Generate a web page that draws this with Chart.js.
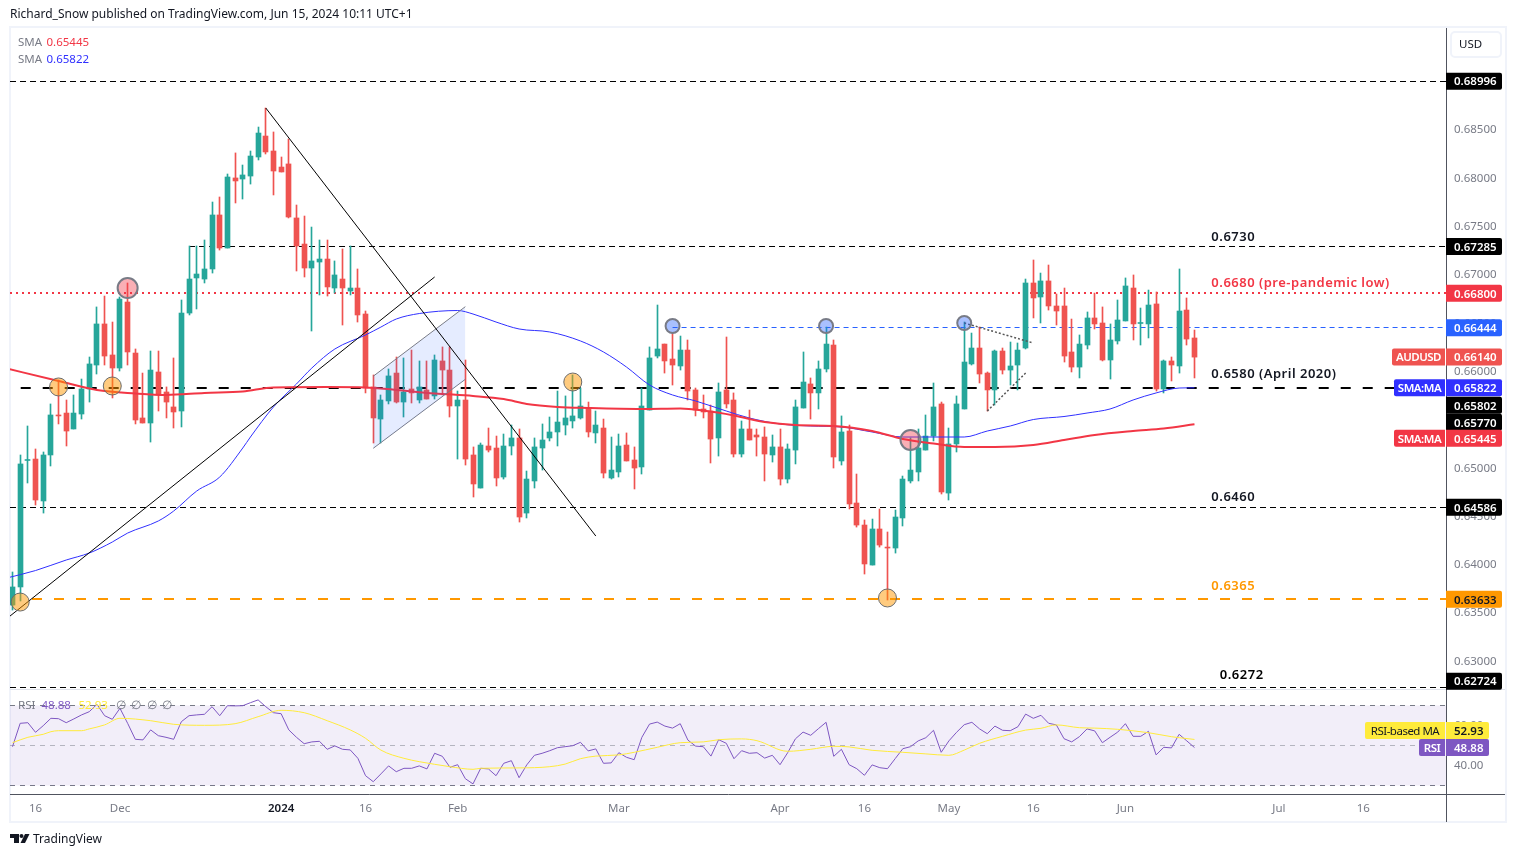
<!DOCTYPE html>
<html>
<head>
<meta charset="utf-8">
<title>AUDUSD</title>
<script src="https://cdn.jsdelivr.net/npm/chart.js@4/dist/chart.umd.min.js"></script>
<style>
html, body { margin: 0; background: #fff; }
canvas { display: block; }
</style>
</head>
<body>
<canvas id="audusd" width="1516" height="857"></canvas>
<script>
// daily candles, 13 Nov 2023 to 14 Jun 2024
const opens = [
0.63574,0.63761,0.65070,0.65085,0.64651,0.65127,0.65541,0.65561,0.65396,0.65551,
0.65810,0.66058,0.66483,0.66162,0.66027,0.66710,0.66182,0.65510,0.65458,0.65986,
0.65779,0.65624,0.65582,0.66596,0.66959,0.66948,0.67052,0.67611,0.67269,0.67994,
0.67983,0.68014,0.68211,0.68428,0.68273,0.68107,0.68139,0.67580,0.67310,0.67062,
0.67124,0.67155,0.66855,0.66948,0.66824,0.66855,0.66586,0.65831,0.65499,0.65686,
0.65975,0.65675,0.65810,0.65696,0.65800,0.65738,0.66100,0.66006,0.65634,0.65696,
0.65127,0.64785,0.65220,0.65199,0.64899,0.65220,0.65303,0.64526,0.64858,0.65199,
0.65303,0.65365,0.65437,0.65479,0.65510,0.65613,0.65355,0.65406,0.64889,0.64951,
0.65230,0.65075,0.65003,0.65592,0.66151,0.66275,0.66120,0.66048,0.66213,0.65800,
0.65603,0.65582,0.65303,0.65800,0.65696,0.65137,0.65396,0.65334,0.65313,0.65127,
0.65210,0.64878,0.65178,0.65613,0.65862,0.65769,0.66017,0.66265,0.65065,0.65375,
0.64630,0.64402,0.63988,0.64361,0.64174,0.64164,0.64475,0.64858,0.64951,0.65178,
0.65323,0.65655,0.64733,0.65241,0.65603,0.66069,0.66234,0.65975,0.65800,0.66203,
0.66006,0.66058,0.66234,0.66907,0.66762,0.66928,0.66669,0.66669,0.66193,0.66037,
0.66265,0.66545,0.66493,0.66110,0.66307,0.66514,0.66855,0.66488,0.66483,0.66690,
0.65810,0.66100,0.66048,0.66627,0.66338];
const closes = [
0.63761,0.65034,0.65080,0.64661,0.65127,0.65541,0.65531,0.65375,0.65561,0.65810,
0.66069,0.66483,0.66151,0.66027,0.66741,0.66193,0.65489,0.65458,0.66006,0.65748,
0.65675,0.65572,0.66596,0.66948,0.67000,0.67052,0.67611,0.67269,0.68004,0.67963,
0.68025,0.68221,0.68459,0.68263,0.68066,0.68056,0.67590,0.67290,0.67062,0.67135,
0.67155,0.66866,0.66990,0.66855,0.66855,0.66576,0.65820,0.65510,0.65696,0.65945,
0.65675,0.65779,0.65769,0.65831,0.65706,0.66110,0.66006,0.65634,0.65696,0.65085,
0.64827,0.65230,0.65178,0.64889,0.65220,0.65303,0.64485,0.64878,0.65210,0.65282,
0.65365,0.65468,0.65510,0.65531,0.65634,0.65365,0.65437,0.64940,0.64971,0.65220,
0.65065,0.64992,0.65634,0.66131,0.66224,0.66100,0.66058,0.66213,0.65789,0.65592,
0.65572,0.65292,0.65779,0.65655,0.65137,0.65396,0.65282,0.65313,0.65137,0.65210,
0.64878,0.65189,0.65624,0.65882,0.65769,0.66017,0.66275,0.65106,0.65365,0.64620,
0.64402,0.63999,0.64361,0.64195,0.64164,0.64485,0.64878,0.64971,0.65199,0.65323,
0.65624,0.64744,0.65241,0.65655,0.66089,0.66234,0.65965,0.65800,0.66203,0.66006,
0.66048,0.66213,0.66907,0.66752,0.66928,0.66669,0.66617,0.66151,0.66037,0.66275,
0.66545,0.66483,0.66110,0.66317,0.66524,0.66876,0.66483,0.66498,0.66679,0.65810,
0.66100,0.66058,0.66617,0.66327,0.66140];
const highs = [
0.63916,0.65127,0.65427,0.65189,0.65158,0.65655,0.65903,0.65696,0.65748,0.65913,
0.66141,0.66659,0.66772,0.66503,0.66762,0.66907,0.66224,0.65975,0.66203,0.66203,
0.65831,0.66131,0.66731,0.67290,0.67290,0.67352,0.67745,0.67797,0.68035,0.68253,
0.68128,0.68273,0.68521,0.68718,0.68470,0.68211,0.68397,0.67714,0.67600,0.67486,
0.67352,0.67352,0.67135,0.67259,0.67290,0.67052,0.66617,0.65955,0.65748,0.66017,
0.66141,0.66131,0.66213,0.66100,0.66100,0.66162,0.66245,0.66245,0.65789,0.66110,
0.65210,0.65251,0.65406,0.65323,0.65344,0.65437,0.65396,0.64961,0.65303,0.65448,
0.65520,0.65789,0.65738,0.65955,0.65820,0.65675,0.65582,0.65499,0.65313,0.65344,
0.65355,0.65210,0.65820,0.66245,0.66679,0.66275,0.66389,0.66358,0.66317,0.65820,
0.65748,0.65644,0.65872,0.66348,0.65769,0.65479,0.65592,0.65396,0.65417,0.65334,
0.65396,0.65241,0.65696,0.66193,0.65924,0.66100,0.66451,0.66317,0.65531,0.65437,
0.64930,0.64454,0.64464,0.64568,0.64330,0.64557,0.64909,0.65303,0.65396,0.65541,
0.65872,0.65675,0.65406,0.65738,0.66503,0.66389,0.66451,0.65986,0.66213,0.66234,
0.66296,0.66286,0.66948,0.67145,0.67010,0.67093,0.66793,0.66855,0.66534,0.66369,
0.66607,0.66803,0.66659,0.66483,0.66731,0.66959,0.66990,0.66648,0.66834,0.66814,
0.66110,0.66141,0.67052,0.66752,0.66420];
const lows = [
0.63522,0.63616,0.64837,0.64609,0.64526,0.65013,0.65448,0.65220,0.65396,0.65499,
0.65675,0.65965,0.66058,0.65717,0.65996,0.66058,0.65448,0.65458,0.65261,0.65582,
0.65510,0.65406,0.65417,0.66576,0.66638,0.66907,0.67010,0.67248,0.67269,0.67735,
0.67776,0.67931,0.68180,0.68242,0.67818,0.68056,0.67580,0.67031,0.66969,0.66410,
0.66783,0.66772,0.66803,0.66472,0.66783,0.66503,0.65769,0.65251,0.65251,0.65655,
0.65665,0.65520,0.65665,0.65665,0.65706,0.65706,0.65748,0.65520,0.65085,0.65023,
0.64692,0.64785,0.65158,0.64806,0.64878,0.65127,0.64433,0.64475,0.64785,0.64971,
0.65272,0.65220,0.65334,0.65406,0.65499,0.65313,0.65251,0.64889,0.64878,0.64899,
0.65065,0.64775,0.64930,0.65592,0.66131,0.65975,0.65851,0.66006,0.65696,0.65531,
0.65510,0.65044,0.65116,0.65613,0.65106,0.65106,0.65282,0.65116,0.64858,0.65054,
0.64816,0.64837,0.65034,0.65613,0.65499,0.65603,0.65986,0.64992,0.65023,0.64568,
0.64381,0.63895,0.63988,0.64174,0.63626,0.64112,0.64392,0.64837,0.64858,0.65178,
0.65272,0.64723,0.64661,0.65158,0.65603,0.66058,0.65872,0.65582,0.65644,0.65965,
0.65851,0.65800,0.66224,0.66545,0.66493,0.66627,0.66472,0.66089,0.65986,0.65924,
0.66224,0.66431,0.66100,0.65913,0.66275,0.66514,0.66317,0.66265,0.66338,0.65789,
0.65769,0.65893,0.65975,0.66265,0.65924];

const rsiValues = [
49.3,61,61.3,56.5,59.8,63.5,63.3,61.3,63.2,65.2,
66.8,70.5,64.8,63,68.5,61,53,52.7,57.7,54.8,
54,53,61.8,64.8,65.2,65.5,69.3,64.8,69.8,69.7,
69.8,71.3,72.7,69.3,66.3,65.8,57.7,54,50.8,51.7,
52,48,49.7,48,47.7,43.5,34.8,31.8,35.7,39.7,
36.8,38.5,38.5,39.7,38.2,46,44.5,39,40.3,33.3,
30.7,38.5,38.2,34.8,41,42.3,33.8,40.2,45,46,
47.3,48.8,49.3,49.8,51.5,47.2,48.2,41,41.2,46.3,
44,42.8,54,60.6,61.6,59.6,58.6,60.8,52.6,49.6,
49.3,44.6,52.8,51,43.3,47.3,46,46.3,43.6,45,
40.3,46.3,53.2,56.6,55,58.3,61.5,44.5,48,40.3,
38.3,35,40.2,38.8,38.3,43.3,48.3,49.3,52.2,53.8,
57.5,46.5,52.2,56.5,60.3,61.5,58.2,55.8,59.6,57.5,
57.3,59.3,65.6,63.5,65,61,60.2,53.3,51.7,54.3,
58.2,57.2,51.3,54,56.6,60.8,54.5,54.5,57,45.2,
49,48.7,55.5,52.2,48.88];

// moving averages read at every few candles
const sma50Idx = [-1,3,7,10,13,15,19,21,24,27,30,31,34,37,39,42,46,48,50,53,58,60,63,66,70,74,77,80,83,86,89,93,96,100,104,108,112,116,120,124,127,130,133,137,140,143,146,149,152,154];
const sma50Values = [0.63849,0.63931,0.64040,0.64112,0.64226,0.64319,0.64444,0.64547,0.64754,0.64899,0.65199,0.65313,0.65624,0.65862,0.66027,0.66224,0.66369,0.66451,0.66534,0.66591,0.66622,0.66586,0.66503,0.66431,0.66400,0.66307,0.66193,0.66037,0.65851,0.65748,0.65686,0.65582,0.65510,0.65448,0.65427,0.65417,0.65365,0.65313,0.65313,0.65313,0.65375,0.65427,0.65494,0.65525,0.65561,0.65603,0.65696,0.65769,0.65820,0.65822];
const sma200Idx = [-1,6,11,16,20,25,30,34,41,46,50,55,60,64,67,71,75,82,87,90,94,98,102,107,112,116,120,124,128,133,137,141,146,150,154];
const sma200Values = [0.66027,0.65893,0.65800,0.65764,0.65748,0.65769,0.65784,0.65826,0.65831,0.65826,0.65800,0.65764,0.65738,0.65706,0.65655,0.65624,0.65613,0.65603,0.65608,0.65587,0.65536,0.65468,0.65437,0.65427,0.65375,0.65292,0.65246,0.65210,0.65210,0.65230,0.65282,0.65334,0.65375,0.65401,0.65445];
const rsiMaIdx = [0,2,4,5,6,9,10,12,14,18,21,25,29,32,35,38,41,44,46,48,51,55,57,60,61,66,70,72,74,76,79,81,84,87,90,92,95,97,101,104,107,109,112,116,119,122,124,126,129,132,134,136,139,141,144,148,151,152,154];
const rsiMaValues = [51.3,54,55.5,56.8,57.3,57.3,58.2,60.2,63.5,62.3,60.5,60,60.8,64.3,67.5,66.3,62.3,57.7,53.5,47.6,43.5,40.5,39.3,38,38.5,38.7,39.3,40.6,43.3,44.6,45.2,46.5,49,51.3,51.7,52.8,53.2,52.3,47,48,49.5,49.2,47.5,46.5,45.7,45,47.6,51,54.5,57.6,58.5,60.2,58.8,58.6,58,56.3,54.3,53.8,52.93];

const priceTicks = [0.685,0.68,0.675,0.67,0.665,0.66,0.655,0.65,0.645,0.64,0.635,0.63];
const rsiTicks = [40,60];
const dateIdx = [3,14,35,46,58,79,100,111,122,133,145,165,176];
const dateNames = ['16','Dec','2024','16','Feb','Mar','Apr','16','May','16','Jun','Jul','16'];

const xMin = -0.326, xMax = 186.77;

const levelValues = [0.68996,0.67285,0.66800,0.66444,0.65820,0.64586,0.63633,0.62724];
const levelStart = [xMin,23,xMin,86,1.07,xMin,2.54,xMin];

const noteTexts = ['0.6730','0.6680 (pre-pandemic low)','0.6580 (April 2020)','0.6460','0.6365','0.6272'];
const noteIdx = [156.2,156.2,156.2,156.2,156.2,157.3];
const notePrices = [0.67393,0.66917,0.65975,0.64702,0.63781,0.62860];

const orangeIdx = [1,6,13,73,114];
const orangePrices = [0.63605,0.65831,0.65841,0.65882,0.63647];
const pinkIdx = [15,117];
const pinkPrices = [0.66855,0.65282];
const blueIdx = [86,106,124];
const bluePrices = [0.66462,0.66462,0.66493];

const badgeValues = [0.68996,0.67285,0.66800,0.66444,0.66140,0.65822,0.65802,0.65770,0.65445,0.64586,0.63633,0.62724];
const rsiBadgeValues = [52.93,48.88];

const UP = '#26a69a', DOWN = '#ef5350', RED = '#f23645', BLUE = '#3030ff', ROYAL = '#2962ff';
const BLACK = '#000000', ORANGE = '#ff9800', PURPLE = '#7e57c2', YELLOW = '#ffeb3b';
const GREY = '#787b86', INK = '#131722', AXIS = '#50535e', PANE = '#f0f3fa';
const FONT = '"Noto Sans", sans-serif';

Chart.defaults.font.family = FONT;

const levelStyles = [
    { color: BLACK, width: 1, dash: [6, 4] },
    { color: BLACK, width: 1, dash: [6, 4] },
    { color: RED, width: 2, dash: [2, 4] },
    { color: ROYAL, width: 1, dash: [5, 4] },
    { color: BLACK, width: 2, dash: [10, 12] },
    { color: BLACK, width: 1, dash: [6, 4] },
    { color: ORANGE, width: 2, dash: [10, 12] },
    { color: BLACK, width: 1, dash: [6, 4] }
];
const noteColors = [INK, RED, INK, INK, ORANGE, BLACK];
const badgeStyles = [
    { bg: BLACK, fg: '#fff', nudge: 0 },
    { bg: BLACK, fg: '#fff', nudge: 0 },
    { bg: RED, fg: '#fff', nudge: 0 },
    { bg: ROYAL, fg: '#fff', nudge: 0 },
    { bg: DOWN, fg: '#fff', nudge: 0, tag: 'AUDUSD', tagLeft: 1392 },
    { bg: BLUE, fg: '#fff', nudge: 0, tag: 'SMA:MA', tagLeft: 1394 },
    { bg: BLACK, fg: '#fff', nudge: 15.5 },
    { bg: BLACK, fg: '#fff', nudge: 29.5 },
    { bg: RED, fg: '#fff', nudge: 14, tag: 'SMA:MA', tagLeft: 1394 },
    { bg: BLACK, fg: '#fff', nudge: 0 },
    { bg: ORANGE, fg: INK, nudge: 0 },
    { bg: BLACK, fg: '#fff', nudge: -6 }
];
const rsiBadgeStyles = [
    { bg: YELLOW, fg: INK, nudge: -9, tag: 'RSI-based MA', tagLeft: 1365 },
    { bg: PURPLE, fg: '#fff', nudge: 0, tag: 'RSI', tagLeft: 1419 }
];

function zip(xs, ys) {
    return xs.map((x, i) => ({ x: x, y: ys[i] }));
}

function lineSet(label, points, opts) {
    return Object.assign({
        type: 'line', label: label, data: points, yAxisID: 'y',
        borderWidth: 1, pointRadius: 0, tension: 0, fill: false, order: 3
    }, opts);
}

function markers(label, xs, ys, fill, edge, edgeWidth, radius) {
    return lineSet(label, zip(xs, ys), {
        showLine: false, pointRadius: radius, pointBackgroundColor: fill,
        pointBorderColor: edge, pointBorderWidth: edgeWidth, order: 1
    });
}

const candleColors = opens.map((o, i) => closes[i] >= o ? UP : DOWN);
const idx = opens.map((o, i) => i);

const datasets = [
    { type: 'bar', label: 'AUDUSD', data: idx.map(i => ({ x: i, y: [opens[i], closes[i]] })), yAxisID: 'y',
      backgroundColor: candleColors, barThickness: 5, grouped: false, order: 5, snap: true },
    { type: 'bar', label: 'AUDUSD range', data: idx.map(i => ({ x: i, y: [lows[i], highs[i]] })), yAxisID: 'y',
      backgroundColor: candleColors, barThickness: 1, grouped: false, order: 6, snap: true },
    lineSet('SMA 50', zip(sma50Idx, sma50Values), { borderColor: BLUE, cubicInterpolationMode: 'monotone', order: 4 }),
    lineSet('SMA 200', zip(sma200Idx, sma200Values), { borderColor: RED, borderWidth: 2, cubicInterpolationMode: 'monotone', order: 3 }),
    lineSet('Trend down', zip([33, 76], [0.68718, 0.64288]), { borderColor: BLACK, order: 2 }),
    lineSet('Trend up', zip([xMin, 55], [0.63460, 0.66969]), { borderColor: BLACK, order: 2 }),
    lineSet('Channel top', zip([47, 59], [0.65942, 0.66662]), { borderColor: GREY, backgroundColor: 'rgba(41,98,255,0.12)', fill: '+1', order: 2 }),
    lineSet('Channel bottom', zip([47, 59], [0.65196, 0.65910]), { borderColor: GREY, order: 2 }),
    lineSet('Wedge top', zip([124, 133], [0.66493, 0.66286]), { borderColor: '#555', borderWidth: 1.5, borderDash: [2, 2], order: 2 }),
    lineSet('Wedge bottom', zip([127, 132], [0.65582, 0.65975]), { borderColor: '#555', borderWidth: 1.5, borderDash: [2, 2], order: 2 }),
    markers('Support', orangeIdx, orangePrices, 'rgba(255,152,0,0.5)', '#6b6b6b', 1, 9),
    markers('Resistance', pinkIdx, pinkPrices, 'rgba(242,54,69,0.4)', GREY, 2, 10),
    markers('Swing high', blueIdx, bluePrices, 'rgba(41,98,255,0.4)', GREY, 2, 7),
    lineSet('RSI 70', zip([xMin, xMax], [70, 70]), { yAxisID: 'rsi', borderColor: GREY, borderDash: [5, 5], backgroundColor: 'rgba(126,87,194,0.1)', fill: '+1', order: 9, snapY: 1 }),
    lineSet('RSI 30', zip([xMin, xMax], [30, 30]), { yAxisID: 'rsi', borderColor: GREY, borderDash: [5, 5], order: 9, snapY: 1 }),
    lineSet('RSI 50', zip([xMin, xMax], [50, 50]), { yAxisID: 'rsi', borderColor: 'rgba(120,123,134,0.5)', borderDash: [5, 5], order: 8, snapY: 1 }),
    lineSet('RSI', idx.map(i => ({ x: i, y: rsiValues[i] })), { yAxisID: 'rsi', borderColor: PURPLE, order: 3 }),
    lineSet('RSI MA', zip(rsiMaIdx, rsiMaValues), { yAxisID: 'rsi', borderColor: YELLOW, cubicInterpolationMode: 'monotone', order: 2 })
];
levelValues.forEach((v, i) => {
    datasets.push(lineSet('Level ' + v, zip([levelStart[i], xMax], [v, v]), {
        borderColor: levelStyles[i].color, borderWidth: levelStyles[i].width,
        borderDash: levelStyles[i].dash, order: 7, snapY: levelStyles[i].width
    }));
});

function label(ctx, text, x, y, font, color, align, spacing) {
    ctx.font = font;
    ctx.fillStyle = color;
    ctx.textAlign = align || 'left';
    ctx.textBaseline = 'middle';
    ctx.letterSpacing = spacing || '0px';
    ctx.fillText(text, x, y + 1);
    ctx.letterSpacing = '0px';
}

function badge(ctx, text, y, right, style) {
    const h = 17;
    ctx.fillStyle = style.bg;
    ctx.beginPath();
    ctx.roundRect(1446, y - h / 2, right - 1446, h, [0, 2, 2, 0]);
    ctx.fill();
    label(ctx, text, 1454, y, '600 11.5px ' + FONT, style.fg);
    if (style.tag) {
        ctx.fillStyle = style.bg;
        ctx.beginPath();
        ctx.roundRect(style.tagLeft, y - h / 2, 1445 - style.tagLeft, h, [2, 0, 0, 2]);
        ctx.fill();
        label(ctx, style.tag, (style.tagLeft + 1445) / 2, y, (style.tag === 'RSI-based MA' ? '' : '600 ') + '11.5px ' + FONT, style.fg, 'center', '-0.5px');
    }
}

// keep thin marks on whole pixels, as the original does
const candleSnap = {
    id: 'candleSnap',
    afterDatasetsUpdate(chart) {
        chart.data.datasets.forEach((d, i) => {
            const els = chart.getDatasetMeta(i).data;
            if (d.snap) els.forEach(el => { el.x = Math.floor(el.x) + 0.5; });
            if (d.snapY === 1) els.forEach(el => { el.y = Math.floor(el.y) + 0.5; });
            if (d.snapY === 2) els.forEach(el => { el.y = Math.round(el.y); });
        });
    }
};

const furniture = {
    id: 'furniture',
    beforeDraw(chart) {
        const ctx = chart.ctx;
        ctx.save();
        ctx.strokeStyle = PANE;
        ctx.lineWidth = 2;
        ctx.strokeRect(10, 27, 1496, 795);
        ctx.strokeStyle = '#e0e3eb';
        ctx.lineWidth = 1;
        ctx.beginPath();
        ctx.moveTo(10, 689.5);
        ctx.lineTo(1505, 689.5);
        ctx.stroke();
        ctx.restore();
    },
    afterDraw(chart) {
        const ctx = chart.ctx, y = chart.scales.y, rsi = chart.scales.rsi;
        const small = '11.5px ' + FONT;
        ctx.save();

        ctx.strokeStyle = AXIS;
        ctx.lineWidth = 1;
        ctx.beginPath();
        ctx.moveTo(1446.5, 794);
        ctx.lineTo(1446.5, 822);
        ctx.moveTo(1446, 794.5);
        ctx.lineTo(1505, 794.5);
        ctx.stroke();

        label(ctx, 'Richard_Snow published on TradingView.com, Jun 15, 2024 10:11 UTC+1', 10, 14, '12px ' + FONT, INK);
        label(ctx, 'SMA', 18, 41.5, small, GREY);
        label(ctx, badgeValues[8].toFixed(5), 46.5, 41.5, small, RED);
        label(ctx, 'SMA', 18, 58.5, small, GREY);
        label(ctx, badgeValues[5].toFixed(5), 46.5, 58.5, small, BLUE);

        label(ctx, 'RSI', 18, 704.5, small, GREY);
        label(ctx, rsiBadgeValues[1].toFixed(2), 41.5, 704.5, small, PURPLE);
        label(ctx, rsiBadgeValues[0].toFixed(2), 78.5, 704.5, small, YELLOW);
        [116, 131, 147, 162].forEach(x => label(ctx, '\u2205', x, 704.5, small, GREY));

        noteTexts.forEach((t, i) => {
            label(ctx, t, chart.scales.x.getPixelForValue(noteIdx[i]), y.getPixelForValue(notePrices[i]),
                '600 13px ' + FONT, noteColors[i], 'left', '0.5px');
        });

        ctx.fillStyle = '#fff';
        ctx.strokeStyle = PANE;
        ctx.lineWidth = 2;
        ctx.beginPath();
        ctx.roundRect(1451, 32, 50, 25, 4);
        ctx.fill();
        ctx.stroke();
        label(ctx, 'USD', 1459, 44, small, INK);

        badgeValues.forEach((v, i) => {
            badge(ctx, v.toFixed(5), y.getPixelForValue(v) + badgeStyles[i].nudge, 1502, badgeStyles[i]);
        });
        rsiBadgeValues.forEach((v, i) => {
            badge(ctx, v.toFixed(2), rsi.getPixelForValue(v) + rsiBadgeStyles[i].nudge, 1489, rsiBadgeStyles[i]);
        });

        // TradingView mark
        ctx.fillStyle = INK;
        ctx.fillRect(10, 834, 9, 4);
        ctx.fillRect(14, 838, 5, 5);
        ctx.beginPath();
        ctx.arc(21.5, 836, 2, 0, Math.PI * 2);
        ctx.fill();
        ctx.beginPath();
        ctx.moveTo(25, 834);
        ctx.lineTo(29.5, 834);
        ctx.lineTo(25, 843);
        ctx.lineTo(20.5, 843);
        ctx.closePath();
        ctx.fill();
        label(ctx, 'TradingView', 33, 838.5, '12px ' + FONT, INK);

        ctx.restore();
    }
};

const isYearTick = ctx => ctx.tick && ctx.tick.value === dateIdx[2];

new Chart(document.getElementById('audusd'), {
    type: 'bar',
    data: { datasets: datasets },
    plugins: [candleSnap, furniture],
    options: {
        responsive: false,
        animation: false,
        events: [],
        layout: { autoPadding: false, padding: { left: 10, top: 28, right: 10, bottom: 35 } },
        plugins: { legend: { display: false }, tooltip: { enabled: false } },
        scales: {
            x: {
                type: 'linear',
                min: xMin,
                max: xMax,
                offset: false,
                grid: { display: false },
                border: { color: AXIS },
                afterFit: s => { s.height = 28; },
                afterBuildTicks: s => { s.ticks = dateIdx.map(v => ({ value: v })); },
                ticks: {
                    autoSkip: false,
                    maxRotation: 0,
                    padding: 0,
                    color: ctx => isYearTick(ctx) ? INK : GREY,
                    font: ctx => ({ size: 11.5, family: FONT, weight: isYearTick(ctx) ? '600' : '400' }),
                    callback: v => dateNames[dateIdx.indexOf(v)]
                }
            },
            y: {
                type: 'linear',
                position: 'right',
                stack: 'panes',
                stackWeight: 661,
                min: 0.62705,
                max: 0.69546,
                grid: { display: false },
                border: { color: AXIS },
                afterFit: s => { s.width = 60; },
                afterBuildTicks: s => { s.ticks = priceTicks.map(v => ({ value: v })); },
                ticks: { autoSkip: false, padding: 0, labelOffset: 1, color: GREY, font: { size: 11.5 }, callback: v => v.toFixed(5) }
            },
            rsi: {
                type: 'linear',
                position: 'right',
                stack: 'panes',
                stackWeight: 105,
                min: 25.65,
                max: 78.15,
                grid: { display: false },
                border: { color: AXIS },
                afterFit: s => { s.width = 60; },
                afterBuildTicks: s => { s.ticks = rsiTicks.map(v => ({ value: v })); },
                ticks: { autoSkip: false, padding: 0, color: GREY, font: { size: 11.5 }, callback: v => v.toFixed(2) }
            }
        }
    }
});
</script>
</body>
</html>
